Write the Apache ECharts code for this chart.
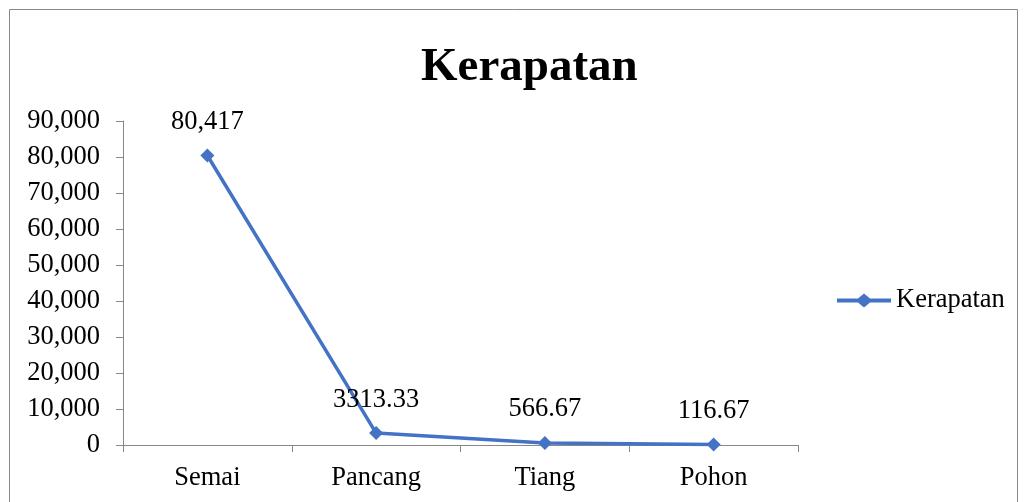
<!DOCTYPE html>
<html>
<head>
<meta charset="utf-8">
<script src="https://cdn.jsdelivr.net/npm/echarts@6/dist/echarts.min.js"></script>
<style>html,body{margin:0;padding:0;background:#fff}#c{width:1026px;height:502px}</style>
</head>
<body>
<div id="c"></div>
<script>
var categories = ['Semai', 'Pancang', 'Tiang', 'Pohon'];
var values = [80417, 3313.33, 566.67, 116.67];
var valueLabels = ['80,417', '3313.33', '566.67', '116.67'];
var yTicks = [0, 10000, 20000, 30000, 40000, 50000, 60000, 70000, 80000, 90000];

var chart = echarts.init(document.getElementById('c'));
var font = '"Liberation Serif", "Times New Roman", serif';
chart.setOption({
  backgroundColor: '#fff',
  animation: false,
  title: {
    text: 'Kerapatan', left: 416, top: 39,
    textStyle: {fontFamily: font, fontSize: 47, fontWeight: 'bold', color: '#000'}
  },
  legend: {
    left: 837, top: 287, orient: 'vertical',
    itemWidth: 54, itemHeight: 14, itemGap: 6, padding: 0,
    textStyle: {fontFamily: font, fontSize: 26.5, color: '#000'},
    data: [{name: 'Kerapatan', icon: 'path://M0,5 L21,5 L27,0 L33,5 L54,5 L54,9 L33,9 L27,14 L21,9 L0,9 Z'}]
  },
  graphic: [{
    type: 'rect', shape: {x: 9.5, y: 9.5, width: 1008, height: 500},
    style: {fill: 'none', stroke: '#888', lineWidth: 1}, silent: true
  }],
  grid: {left: 123, right: 228, top: 121, bottom: 57},
  xAxis: {
    type: 'category', data: categories, boundaryGap: true,
    axisLine: {lineStyle: {color: '#888', width: 1}},
    axisTick: {show: true, length: 7, lineStyle: {color: '#888'}},
    axisLabel: {fontFamily: font, fontSize: 26.5, color: '#000', margin: 20}
  },
  yAxis: {
    type: 'value', min: 0, max: 90000, interval: 10000,
    axisLine: {show: true, lineStyle: {color: '#888', width: 1}},
    axisTick: {show: true, length: 7, lineStyle: {color: '#888'}},
    splitLine: {show: false},
    axisLabel: {
      fontFamily: font, fontSize: 26.5, color: '#000', margin: 23,
      formatter: function (v) { return v.toLocaleString('en-US'); }
    }
  },
  series: [{
    name: 'Kerapatan', type: 'line', data: values,
    symbol: 'diamond', symbolSize: 14,
    itemStyle: {color: '#4472C4'},
    lineStyle: {color: '#4472C4', width: 3.5},
    label: {
      show: true, position: 'top', distance: 13,
      fontFamily: font, fontSize: 26.5, color: '#000',
      formatter: function (p) { return valueLabels[p.dataIndex]; }
    }
  }]
});
</script>
</body>
</html>
